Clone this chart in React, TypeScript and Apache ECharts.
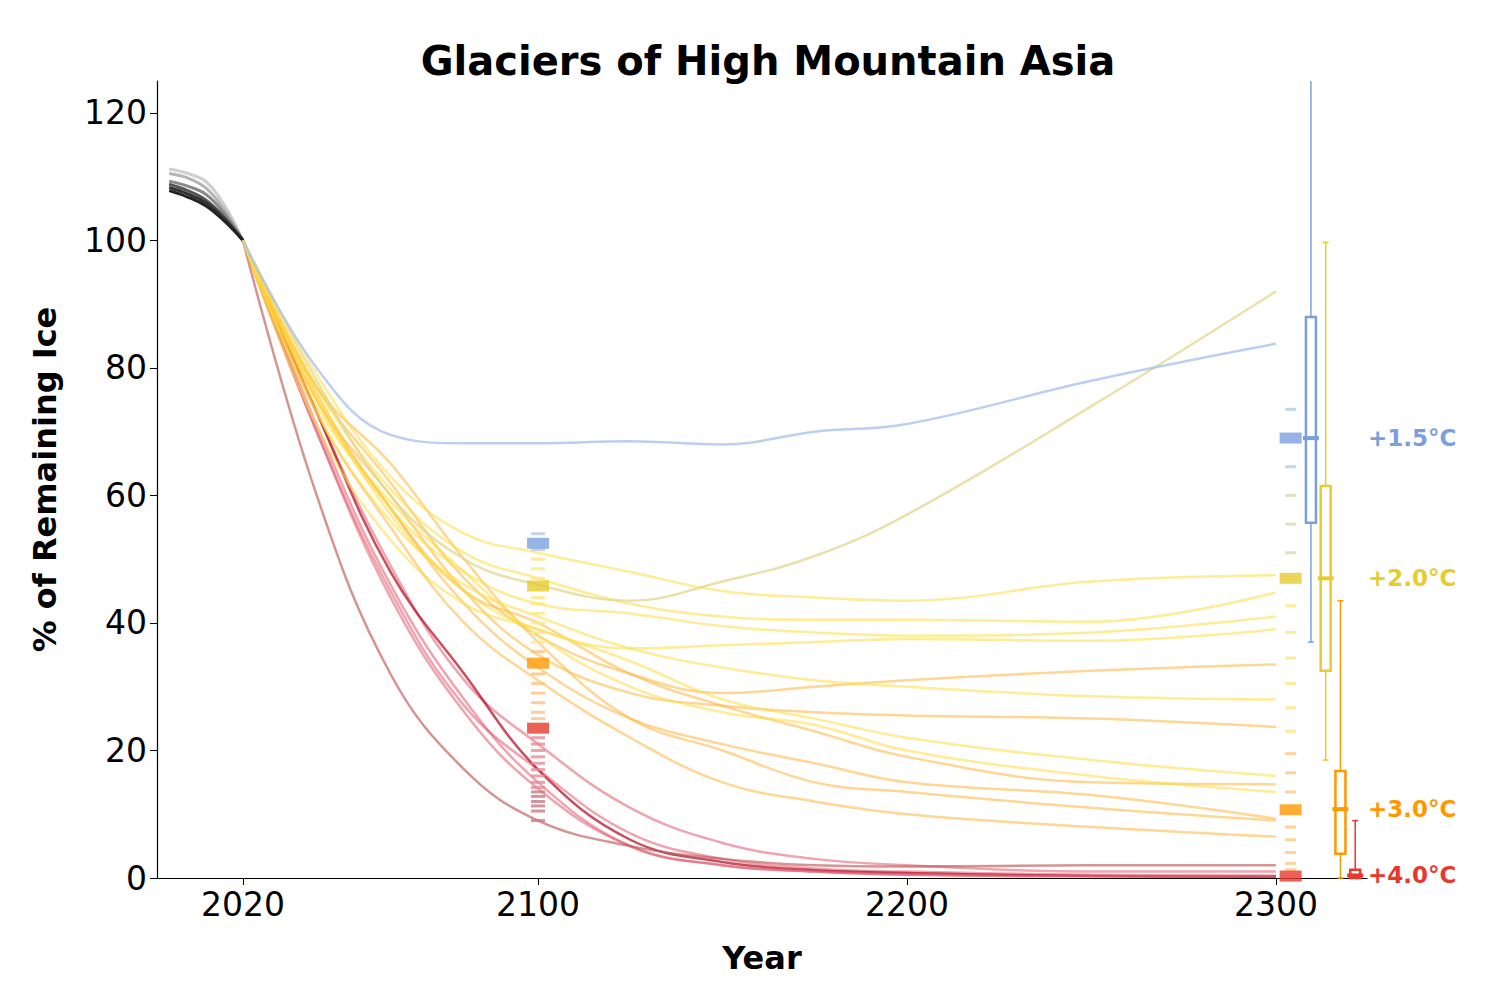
import React, { useEffect, useRef } from "react";
import * as echarts from "echarts";

const histYears = [2000, 2005, 2010, 2015, 2020];
const histValues = [
  [111.2, 110.5, 109.2, 105.5, 100],
  [110.5, 109.8, 108.2, 104.8, 100],
  [109.3, 108.5, 107.2, 104.2, 100],
  [108.8, 107.8, 106.3, 103.6, 100],
  [108.3, 107.3, 105.9, 103.3, 100],
  [107.8, 106.8, 105.4, 103.0, 100],
];
const histColors = ["#cfcfcf", "#b5b5b5", "#8a8a8a", "#555", "#333", "#222"];

const years = [2020, 2040, 2060, 2080, 2100, 2125, 2150, 2175, 2200, 2250, 2300];
const blueLines = [
  [100, 80, 69.5, 68.2, 68.2, 68.5, 68, 70, 71.2, 78, 83.8],
];
const oliveLines = [
  [100, 78, 60, 50, 46, 43.5, 46.5, 50.5, 57, 74, 92],
];
const yellowLines = [
  [100, 79, 63, 54, 51, 48, 45, 44, 43.5, 46.5, 47.5],
  [100, 77, 61, 51, 47, 43, 41, 40.5, 40.5, 40.2, 44.8],
  [100, 75, 58, 48, 43, 41.5, 39.5, 38.5, 38, 38.5, 41],
  [100, 73, 56, 46, 41, 36, 33, 31, 30, 28.5, 28],
  [100, 71, 53, 43, 39, 34, 28, 25, 22, 18.5, 16],
  [100, 74, 59, 48, 38, 30, 26, 24, 20, 16, 13.5],
  [100, 76, 57, 45, 39, 36, 36.5, 37, 37.5, 37.2, 39],
];
const orangeLines = [
  [100, 77, 62, 47, 38, 32, 29, 30, 31, 32.5, 33.5],
  [100, 75, 60, 45, 35, 29, 27, 26, 25.5, 25, 23.7],
  [100, 75, 58, 43, 33, 25, 21, 18, 15, 13, 9.3],
  [100, 77, 65, 50, 37, 25, 20, 15, 13.5, 11, 9],
  [100, 73, 55, 40, 31, 22, 15, 12, 10, 8, 6.5],
  [100, 76, 58, 45, 40, 32, 27, 23, 19, 15, 14.7],
];
const redLines = [
  [100, 73, 49, 31, 21, 11, 5.5, 3, 2, 1, 1],
  [100, 70, 45, 27, 17, 7, 3, 1.5, 1, 0.5, 0.3],
  [100, 73, 48, 32, 17, 6, 2.5, 1.2, 0.8, 0.3, 0.2],
  [100, 71, 46, 28, 15, 5, 2, 1, 0.5, 0.3, 0.3],
  [100, 70, 44, 26, 14, 5, 2, 1, 0.5, 0.3, 0.3],
];
const brownLines = [[100, 60, 32, 17, 9, 5, 3, 2, 1.8, 2, 2]];

const dashes2100 = [
  54, 51.5, 50, 48.5, 47, 44, 43, 41.5, 40, 38.5, 37, 35.5, 32, 30.5, 29, 27.5, 26, 25,
  22, 21, 20, 19, 18, 17, 16, 15, 14.2, 13.5, 12.8, 12, 11.3, 10.5, 9,
];
const dashes2303 = [
  73.5, 64.5, 60, 55.5, 51, 42.7, 38.5, 34.5, 30.5, 26.7, 23, 19.5, 16.5, 13.5, 8, 6, 4, 2.3,
  1.3,
];
const medianLabels = ["+1.5°C", "+2.0°C", "+3.0°C", "+4.0°C"];
const medianColors = ["#7aa0dc", "#e6cc2e", "#ff9900", "#e8382e"];
const medians2100 = [52.5, 45.8, 33.7, 23.5];
const medians2303 = [69, 47, 10.7, 0.3];
const xTicks = [2020, 2100, 2200, 2300];
// [x, low, q1, median, q3, high]
const boxes = [
  [2309.5, 37, 55.7, 69, 88, 125],
  [2313.5, 18.5, 32.5, 47, 61.5, 99.7],
  [2317.5, 0, 3.8, 10.8, 16.8, 43.5],
  [2321.5, 0, 0, 0.4, 1.3, 9],
];

const dashColor = (v: number) =>
  v > 50 ? "#b8c8e8" : v > 36 ? "#ffe680" : v > 24 ? "#ffc080" : v > 14 ? "#e88a95" : "#c87a80";
const dashColorEnd = (v: number) =>
  v > 60 ? "#b8c8e8" : v > 45 ? "#d8d8b8" : v > 20 ? "#ffe680" : v > 1 ? "#ffc880" : "#e88a95";

const App: React.FC = () => {
  const ref = useRef<HTMLDivElement>(null);
  useEffect(() => {
    const chart = echarts.init(ref.current as HTMLDivElement, null, { renderer: "svg" });
    const line = (vals: number[], xs: number[], color: string, width = 2.5) => ({
      type: "line",
      data: vals.map((v, i) => [xs[i], v]),
      smooth: 0.4,
      showSymbol: false,
      lineStyle: { color, width },
      z: 2,
    });
    const series: any[] = [
      ...histValues.map((v, i) => line(v, histYears, histColors[i], 3)),
      ...redLines.map((v, i) =>
        line(v, years, i === 2 ? "rgba(180,20,40,0.75)" : "rgba(225,90,110,0.55)")
      ),
      ...brownLines.map((v) => line(v, years, "rgba(190,90,90,0.65)")),
      ...orangeLines.map((v) => line(v, years, "rgba(255,180,60,0.55)")),
      ...yellowLines.map((v) => line(v, years, "rgba(255,220,60,0.55)")),
      ...oliveLines.map((v) => line(v, years, "rgba(225,215,140,0.75)")),
      ...blueLines.map((v) => line(v, years, "rgba(170,195,240,0.8)")),
      {
        type: "scatter",
        symbol: "rect",
        symbolSize: [14, 3],
        data: dashes2100.map((v) => ({ value: [2100, v], itemStyle: { color: dashColor(v) } })),
        z: 3,
      },
      {
        type: "scatter",
        symbol: "rect",
        symbolSize: [11, 3],
        data: dashes2303.map((v) => ({ value: [2304, v], itemStyle: { color: dashColorEnd(v) } })),
        z: 3,
      },
      {
        type: "scatter",
        symbol: "rect",
        symbolSize: [22, 11],
        data: medians2100.map((v, i) => ({ value: [2100, v], itemStyle: { color: medianColors[i] } })),
        z: 4,
      },
      {
        type: "scatter",
        symbol: "rect",
        symbolSize: [22, 11],
        data: medians2303.map((v, i) => ({ value: [2304, v], itemStyle: { color: medianColors[i] } })),
        z: 4,
      },
      {
        type: "custom",
        clip: false,
        z: 5,
        data: boxes,
        renderItem: (params: any, api: any) => {
          const c = medianColors[params.dataIndex];
          const x = api.value(0);
          const p = (v: number) => api.coord([x, v]);
          const [px, yLo] = p(api.value(1));
          const yQ1 = p(api.value(2))[1];
          const yMed = p(api.value(3))[1];
          const yQ3 = p(api.value(4))[1];
          const yHi = p(api.value(5))[1];
          const w = 5;
          const ls = { stroke: c, lineWidth: 1.5 };
          const children: any[] = [
            { type: "line", shape: { x1: px, y1: yLo, x2: px, y2: yQ1 }, style: ls },
            { type: "line", shape: { x1: px, y1: yQ3, x2: px, y2: yHi }, style: ls },
            { type: "line", shape: { x1: px - 3, y1: yLo, x2: px + 3, y2: yLo }, style: ls },
            {
              type: "rect",
              shape: { x: px - w, y: yQ3, width: 2 * w, height: Math.max(yQ1 - yQ3, 2) },
              style: { stroke: c, lineWidth: 2.5, fill: "none" },
            },
            {
              type: "line",
              shape: { x1: px - 8, y1: yMed, x2: px + 8, y2: yMed },
              style: { stroke: c, lineWidth: 4 },
            },
            {
              type: "text",
              x: api.coord([2324.7, 0])[0] + 1,
              y: yMed,
              style: {
                text: medianLabels[params.dataIndex],
                fill: c,
                font: "bold 23px 'DejaVu Sans'",
                verticalAlign: "middle",
                align: "left",
              },
            },
          ];
          if (api.value(5) < 125)
            children.push({ type: "line", shape: { x1: px - 3, y1: yHi, x2: px + 3, y2: yHi }, style: ls });
          return { type: "group", children };
        },
      },
    ];
    chart.setOption({
      animation: false,
      textStyle: { fontFamily: "DejaVu Sans" },
      title: {
        text: "Glaciers of High Mountain Asia",
        left: 755,
        textAlign: "center",
        top: 28,
        textStyle: { fontSize: 40, fontWeight: "bold", color: "#000", fontFamily: "DejaVu Sans" },
      },
      grid: { left: 149, right: 125, top: 73, bottom: 114 },
      xAxis: {
        type: "value",
        min: 1996.7,
        max: 2324.7,
        name: "Year",
        nameLocation: "middle",
        nameGap: 64,
        nameTextStyle: { fontSize: 32, fontWeight: "bold", color: "#000" },
        axisLine: { lineStyle: { color: "#000", width: 1.2 } },
        axisTick: { customValues: xTicks, length: 7, lineStyle: { color: "#000" } },
        axisLabel: {
          customValues: xTicks,
          fontSize: 33,
          color: "#000",
          margin: 10,
          formatter: (v: number) => String(v),
        },
        splitLine: { show: false },
      },
      yAxis: {
        type: "value",
        min: 0,
        max: 125,
        interval: 20,
        name: "% of Remaining Ice",
        nameLocation: "middle",
        nameGap: 96,
        nameTextStyle: { fontSize: 32, fontWeight: "bold", color: "#000" },
        axisLine: { show: true, lineStyle: { color: "#000", width: 1.2 } },
        axisTick: { show: true, length: 7, lineStyle: { color: "#000" } },
        axisLabel: { fontSize: 33, color: "#000", margin: 10, showMaxLabel: false },
        splitLine: { show: false },
      },
      series,
    });
    return () => chart.dispose();
  }, []);
  return <div ref={ref} style={{ width: 1484, height: 984 }} />;
};

export default App;
